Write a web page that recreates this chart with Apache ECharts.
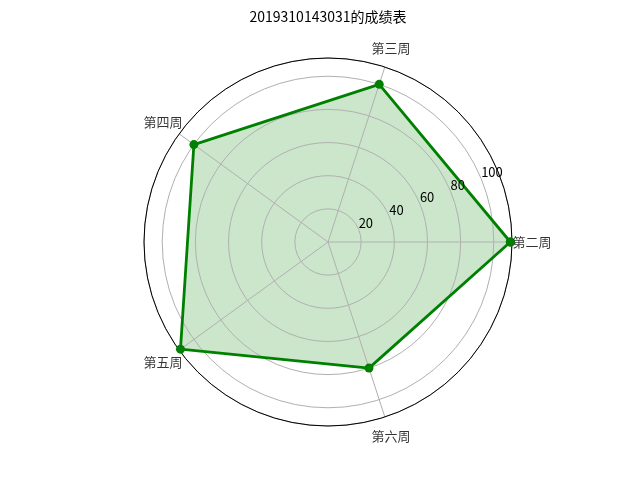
<!DOCTYPE html>
<html>
<head>
<meta charset="utf-8">
<script src="https://cdn.jsdelivr.net/npm/echarts@6/dist/echarts.min.js"></script>
<style>
    html, body { margin: 0; padding: 0; background: #fff; }
    #container { width: 640px; height: 480px; }
</style>
</head>
<body>
<div id="container"></div>
<script>
// 数据
var titleText = '2019310143031的成绩表';
var weeks = ['第二周', '第三周', '第四周', '第五周', '第六周'];   // 类别
var scores = [110, 100, 100, 110, 80];                           // 分数
var rTicks = [20, 40, 60, 80, 100];                              // 半径刻度
var rMax = 111;
var stepAngle = 360 / weeks.length;

var fontName = '"Noto Sans CJK SC", "DejaVu Sans", sans-serif';
var polarR = 184;          // 极坐标半径 px
var labelPad = 20;         // 类别标签离外圈的距离 px

// 闭合的折线数据 [半径, 角度]
var lineData = [];
for (var i = 0; i < weeks.length; i++) {
    lineData.push([scores[i], i * stepAngle]);
}
lineData.push([scores[0], 0]);

// 类别标签 (放在外圈外面, 居中对齐)
var labelData = [];
for (var j = 0; j < weeks.length; j++) {
    labelData.push({ name: weeks[j], value: [rMax * (polarR + labelPad) / polarR, j * stepAngle] });
}

var dom = document.getElementById('container');
var myChart = echarts.init(dom);

var option = {
    backgroundColor: '#fff',
    animation: false,
    title: {
        text: titleText,
        left: 328,
        top: 10,
        textAlign: 'center',
        padding: 0,
        textStyle: {
            fontFamily: fontName,
            fontSize: 14,
            fontWeight: 'normal',
            color: '#000'
        }
    },
    polar: [
        { center: [328, 242], radius: polarR },
        { center: [328, 242], radius: polarR }
    ],
    angleAxis: [
        {
            polarIndex: 0,
            type: 'value',
            min: 0,
            max: 360,
            interval: stepAngle,
            startAngle: 0,
            clockwise: false,
            z: 1,
            axisLine: { show: true, lineStyle: { color: '#000', width: 1 } },
            axisTick: { show: false },
            axisLabel: { show: false },
            splitLine: { show: true, lineStyle: { color: '#b0b0b0', width: 1 } }
        },
        {
            polarIndex: 1,
            type: 'value',
            min: 0,
            max: 360,
            startAngle: 22.5,
            clockwise: false,
            axisLine: { show: false },
            axisTick: { show: false },
            axisLabel: { show: false },
            splitLine: { show: false }
        }
    ],
    radiusAxis: [
        {
            polarIndex: 0,
            type: 'value',
            min: 0,
            max: rMax,
            interval: 20,
            z: 1,
            axisLine: { show: false },
            axisTick: { show: false },
            axisLabel: { show: false },
            splitLine: {
                show: true,
                showMinLine: false,
                showMaxLine: false,
                lineStyle: { color: '#b0b0b0', width: 1 }
            }
        },
        {
            polarIndex: 1,
            type: 'value',
            min: 0,
            max: rMax,
            interval: 20,
            z: 3,
            axisLine: { show: false },
            axisTick: { show: false },
            splitLine: { show: false },
            axisLabel: {
                show: true,
                margin: 0,
                align: 'left',
                verticalAlign: 'bottom',
                fontFamily: fontName,
                fontSize: 13,
                color: '#000',
                formatter: function (v) {
                    return rTicks.indexOf(v) >= 0 ? String(v) : '';
                }
            }
        }
    ],
    series: [
        {
            // 填充 (在网格线下面)
            name: '填充',
            type: 'line',
            coordinateSystem: 'polar',
            polarIndex: 0,
            data: lineData,
            symbol: 'none',
            lineStyle: { width: 0, opacity: 0 },
            areaStyle: { color: '#008000', opacity: 0.2 },
            silent: true,
            z: 0
        },
        {
            name: '分数',
            type: 'line',
            coordinateSystem: 'polar',
            polarIndex: 0,
            data: lineData,
            symbol: 'circle',
            symbolSize: 9,
            showAllSymbol: true,
            lineStyle: { color: '#008000', width: 2.8 },
            itemStyle: { color: '#008000' },
            z: 2
        },
        {
            name: '类别',
            type: 'scatter',
            coordinateSystem: 'polar',
            polarIndex: 0,
            data: labelData,
            clip: false,
            symbolSize: 0,
            itemStyle: { color: 'rgba(0,0,0,0)' },
            silent: true,
            label: {
                show: true,
                position: 'inside',
                formatter: '{b}',
                fontFamily: fontName,
                fontSize: 13,
                color: '#000'
            }
        }
    ]
};

if (option && typeof option === "object") {
    myChart.setOption(option, true);
}
</script>
</body>
</html>
